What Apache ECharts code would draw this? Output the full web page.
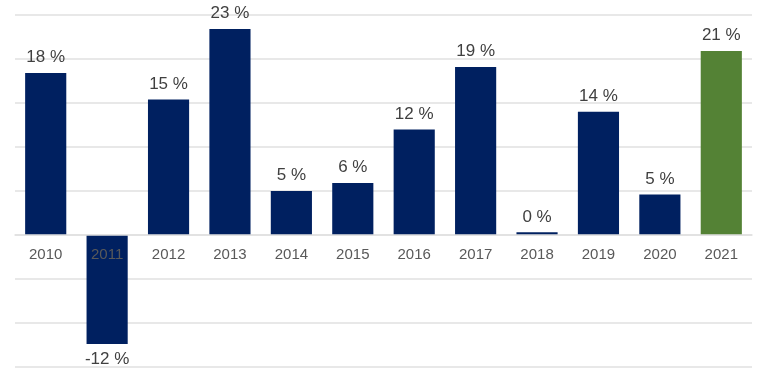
<!DOCTYPE html>
<html><head><meta charset="utf-8">
<script src="https://cdn.jsdelivr.net/npm/echarts@6/dist/echarts.min.js"></script>
<style>html,body{margin:0;padding:0;background:#fff}#c{width:767px;height:383px}</style>
</head><body><div id="c"></div>
<script>
const years = ['2010','2011','2012','2013','2014','2015','2016','2017','2018','2019','2020','2021'];
const returns = [18.4, -12.4, 15.4, 23.4, 5.0, 5.9, 12.0, 19.1, 0.3, 14.0, 4.6, 20.9];
const highlightYear = '2021';
const yTicks = { min: -15, max: 25, interval: 5 };

const navy = '#002060', green = '#548235';
const data = returns.map((v, i) => ({
  value: v,
  itemStyle: { color: years[i] === highlightYear ? green : navy },
  label: { position: v < 0 ? 'bottom' : 'top' }
}));

const gridTop = 15, gridBottom = 16, gridH = 383 - gridTop - gridBottom;
const zeroOffset = -gridH * (0 - yTicks.min) / (yTicks.max - yTicks.min);

const chart = echarts.init(document.getElementById('c'), null, { renderer: 'canvas' });
chart.setOption({
  animation: false,
  backgroundColor: '#ffffff',
  grid: { left: 15, right: 15, top: gridTop, bottom: gridBottom, containLabel: false, outerBoundsMode: 'none' },
  xAxis: {
    type: 'category', data: years, z: 5, position: 'bottom', offset: zeroOffset,
    axisLine: { show: true, onZero: false, lineStyle: { color: '#e0e0e0', width: 1.5 } },
    axisTick: { show: false },
    axisLabel: { color: '#595959', fontSize: 15, margin: 12, fontFamily: 'Liberation Sans, Arial, sans-serif' }
  },
  yAxis: {
    type: 'value', min: yTicks.min, max: yTicks.max, interval: yTicks.interval,
    axisLabel: { show: false }, axisLine: { show: false }, axisTick: { show: false },
    splitLine: { lineStyle: { color: '#e0e0e0', width: 1.5 } }
  },
  series: [{
    type: 'bar', data: data, barWidth: '67%',
    label: {
      show: true, color: '#404040', fontSize: 17, distance: 7,
      fontFamily: 'Liberation Sans, Arial, sans-serif',
      formatter: p => Math.round(p.value) + ' %'
    }
  }]
});
</script></body></html>
